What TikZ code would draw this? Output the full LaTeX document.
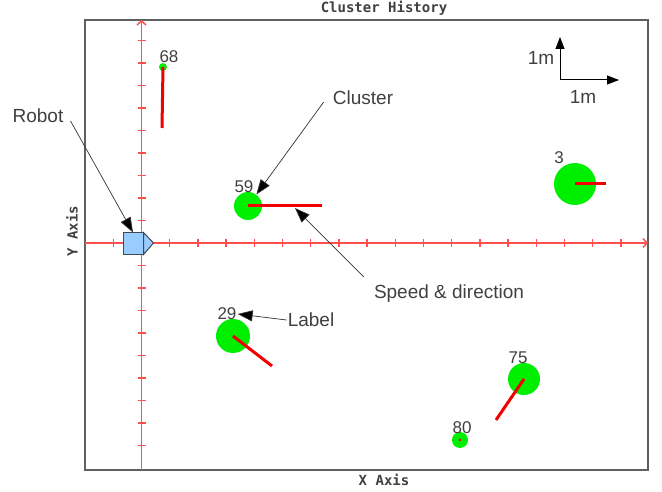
\documentclass[tikz,border=0pt]{standalone}
\usepackage{fontspec}
\setmainfont{Liberation Sans}
\newfontfamily\headfont{DejaVu Sans Mono}
\usepackage{xcolor}
\usepackage{tikz}
\usetikzlibrary{arrows.meta}
\definecolor{Ink}{HTML}{404040}
\definecolor{Frame}{HTML}{606060}
\definecolor{AxisRed}{HTML}{FF5050}
\definecolor{Vel}{HTML}{F00000}
\definecolor{Blob}{HTML}{00EE00}
\definecolor{Body}{HTML}{99CCFF}
\definecolor{Edge}{HTML}{404850}

\begin{document}
\begin{tikzpicture}[x=1pt,y=-1pt,>=Latex]
\tikzset{cluster/.style={circle,fill=Blob,inner sep=0pt,minimum size=#1}, idtag/.style={font=\fontsize{17}{17}\selectfont,text=Ink,inner sep=1pt}, note/.style={font=\fontsize{19}{19}\selectfont,text=Ink,inner sep=1pt}, pointer/.style={-{Triangle[length=15pt,width=11pt,fill=black]},draw=black!80,line width=0.7pt}, speed/.style={Vel,line width=3pt}, axis/.style={AxisRed,line width=1.5pt,-{Straight Barb[length=4pt,width=9pt]}}, tick/.style={AxisRed,line width=1.4pt}, heading/.style={font=\headfont\bfseries\fontsize{14}{14}\selectfont,text=Ink}}
\useasboundingbox (0,0) rectangle (662,492);
% plot area
\draw[Frame,line width=1.5pt] (85,20) rectangle (648,470);
\node[heading] (title) at (384,8) {Cluster History};
\node[heading] (xlabel) at (384,480) {X Axis};
\node[heading,rotate=90] (ylabel) at (72,231) {Y Axis};
% axes and ticks
\draw[axis] (85,243) -- (648,243);
\draw[axis] (141.5,470) -- (141.5,20);
\foreach \i in {-1,1,2,3,...,17}
  \draw[tick] (141.5+28.2*\i,239) -- ++(0,8);
\foreach \j in {1,...,9} {
  \draw[tick] (137.5,243-22.5*\j) -- ++(8,0);
  \draw[tick] (137.5,243+22.5*\j) -- ++(8,0);
}
% clusters
\node[cluster=8pt] (c68) at (163,67) {};
\node[cluster=28pt] (c59) at (248,206) {};
\node[cluster=42pt] (c3) at (575,184) {};
\node[cluster=34pt] (c29) at (233,336) {};
\node[cluster=32pt] (c75) at (524,379) {};
\node[cluster=16pt] (c80) at (460,440) {};
\node[idtag] (l68) at (169,57) {68};
\node[idtag] (l59) at (244,187) {59};
\node[idtag] (l3) at (559,158) {3};
\node[idtag] (l29) at (227,314) {29};
\node[idtag] (l75) at (518,358) {75};
\node[idtag] (l80) at (462,428) {80};
% speed vectors
\coordinate (v68) at (162,128);
\coordinate (v59) at (322,206);
\coordinate (v3) at (606,184);
\coordinate (v29) at (272,366);
\coordinate (v75) at (496,420);
\draw[speed] (c68.center) -- (v68);
\draw[speed] (c59.center) -- (v59);
\draw[speed] (c3.center) -- (v3);
\draw[speed] (c29.center) -- (v29);
\draw[speed] (c75.center) -- (v75);
\fill[Vel] (c80.center) circle (1.3);
% robot
\node[draw=Edge,fill=Body,line width=1pt,minimum width=20pt,minimum height=21pt,inner sep=0pt] (robot) at (133,243.5) {};
\draw[draw=Edge,fill=Body,line width=1pt] (robot.north east) -- ++(10,10.5) -- (robot.south east) -- cycle;
% scale
\coordinate (origin) at (560,80);
\coordinate (uptip) at (560,37);
\coordinate (righttip) at (619,80);
\draw[-{Triangle[length=12pt,width=9pt]},line width=1pt] (origin) -- (uptip);
\draw[-{Triangle[length=12pt,width=9pt]},line width=1pt] (origin) -- (righttip);
\node[note] (ym) at (541,58) {1m};
\node[note] (xm) at (583,97) {1m};
% annotations
\node[note] (robotnote) at (38,116) {Robot};
\node[note] (clusternote) at (363,98) {Cluster};
\node[note] (speednote) at (449,294) {Speed \& direction};
\node[note] (labelnote) at (311,320) {Label};
\coordinate (v59pt) at (295,208);
\draw[pointer] ([shift={(6,5)}]robotnote.east) -- (robot.north);
\draw[pointer] ([shift={(-8,4)}]clusternote.west) -- (c59);
\draw[pointer] ([shift={(-9,-7)}]speednote.north west) -- (v59pt);
\draw[pointer] (labelnote.west) -- (l29.east);
\end{tikzpicture}
\end{document}
